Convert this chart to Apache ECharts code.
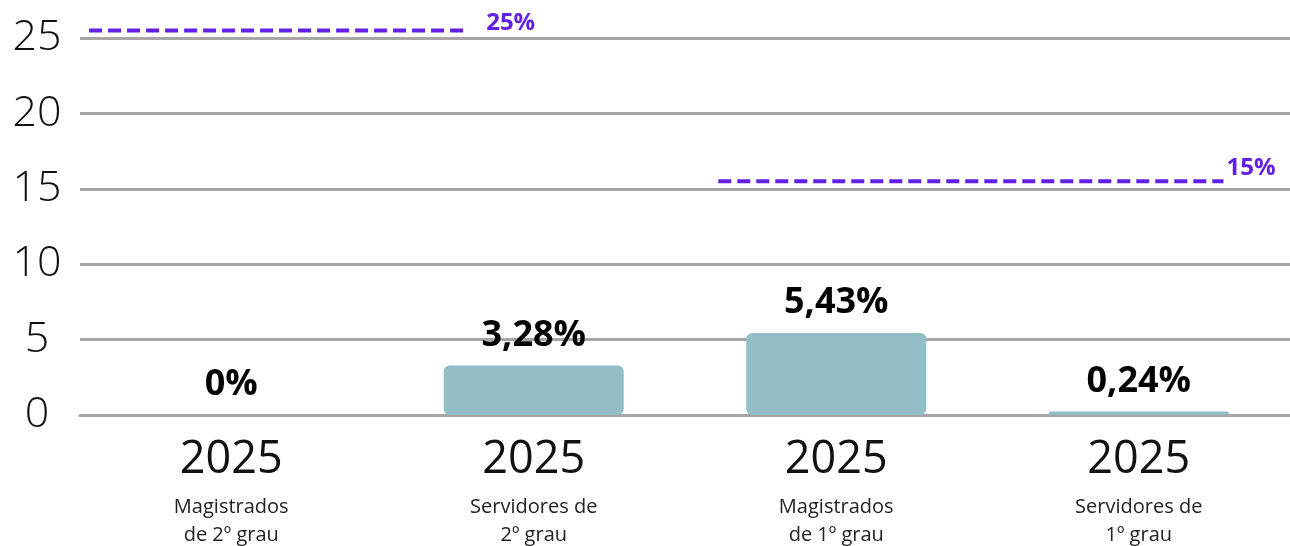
<!DOCTYPE html>
<html>
<head>
<meta charset="utf-8">
<script src="https://cdn.jsdelivr.net/npm/echarts@6/dist/echarts.min.js"></script>
<style>html,body{margin:0;padding:0;background:#fff}#c{width:1290px;height:546px}</style>
</head>
<body>
<div id="c"></div>
<script>
const years = ['2025', '2025', '2025', '2025'];
const groups = ['Magistrados\nde 2º grau', 'Servidores de\n2º grau', 'Magistrados\nde 1º grau', 'Servidores de\n1º grau'];
const values = [0, 3.28, 5.43, 0.24];
const yTicks = [0, 5, 10, 15, 20, 25];
// target lines: [x start, x end] in category units (0..4), value
const target2 = { from: 0.03, to: 1.27, value: 25, label: '25%' };
const target1 = { from: 2.11, to: 3.78, value: 15, label: '15%' };

const FONT = '"Open Sans", "Noto Sans", sans-serif';
const PURPLE = '#6220e6';

function fmt(v) { return String(v).replace('.', ',') + '%'; }

function targetSeries(t, labelOffset) {
  return {
    type: 'line',
    xAxisIndex: 1,
    yAxisIndex: 1,
    clip: false,
    symbol: 'none',
    silent: true,
    z: 5,
    lineStyle: { color: PURPLE, width: 4, type: [13, 6] },
    endLabel: {
      show: true, formatter: t.label, offset: labelOffset, distance: 0,
      color: PURPLE, fontWeight: 'bold', fontSize: 24, fontFamily: FONT
    },
    data: [[t.from, t.value], [t.to, t.value]]
  };
}

const chart = echarts.init(document.getElementById('c'), null, { renderer: 'canvas' });
chart.setOption({
  animation: false,
  backgroundColor: '#ffffff',
  grid: [{ left: 80, right: 0, top: 38, bottom: 131, containLabel: false }],
  xAxis: [{
    type: 'category',
    data: years.map((y, i) => y + '\n' + groups[i]),
    axisTick: { show: false },
    axisLine: { show: true, lineStyle: { color: '#a6a6a6', width: 3 } },
    axisLabel: {
      margin: 12,
      interval: 0,
      formatter: function (v) {
        const parts = v.split('\n');
        return '{y|' + parts[0] + '}\n{s|' + parts[1] + '}\n{s|' + parts[2] + '}';
      },
      rich: {
        y: { fontSize: 45, lineHeight: 66, color: '#111', fontFamily: FONT },
        s: { fontSize: 20, lineHeight: 28, color: '#222', fontFamily: FONT }
      }
    }
  }, {
    type: 'value', min: 0, max: 4, show: false
  }],
  yAxis: [{
    type: 'value', min: 0, max: 25, interval: 5,
    axisLine: { show: false }, axisTick: { show: false },
    splitLine: { lineStyle: { color: '#a6a6a6', width: 3 } },
    axisLabel: {
      align: 'center', margin: 43, fontSize: 43, fontWeight: 300, color: '#111', fontFamily: FONT,
      formatter: function (v) { return yTicks.indexOf(v) >= 0 ? String(v) : ''; }
    }
  }, {
    type: 'value', min: -0.5, max: 24.5, show: false
  }],
  series: [{
    type: 'bar',
    data: values,
    barWidth: 180,
    itemStyle: { color: '#94bec5', borderRadius: 6 },
    label: {
      show: true, position: 'top', distance: 12,
      formatter: function (p) { return fmt(p.value); },
      color: '#000', fontWeight: 'bold', fontSize: 36, fontFamily: FONT
    }
  },
  targetSeries(target2, [22, -7]),
  targetSeries(target1, [3, -13])
  ]
});
</script>
</body>
</html>
